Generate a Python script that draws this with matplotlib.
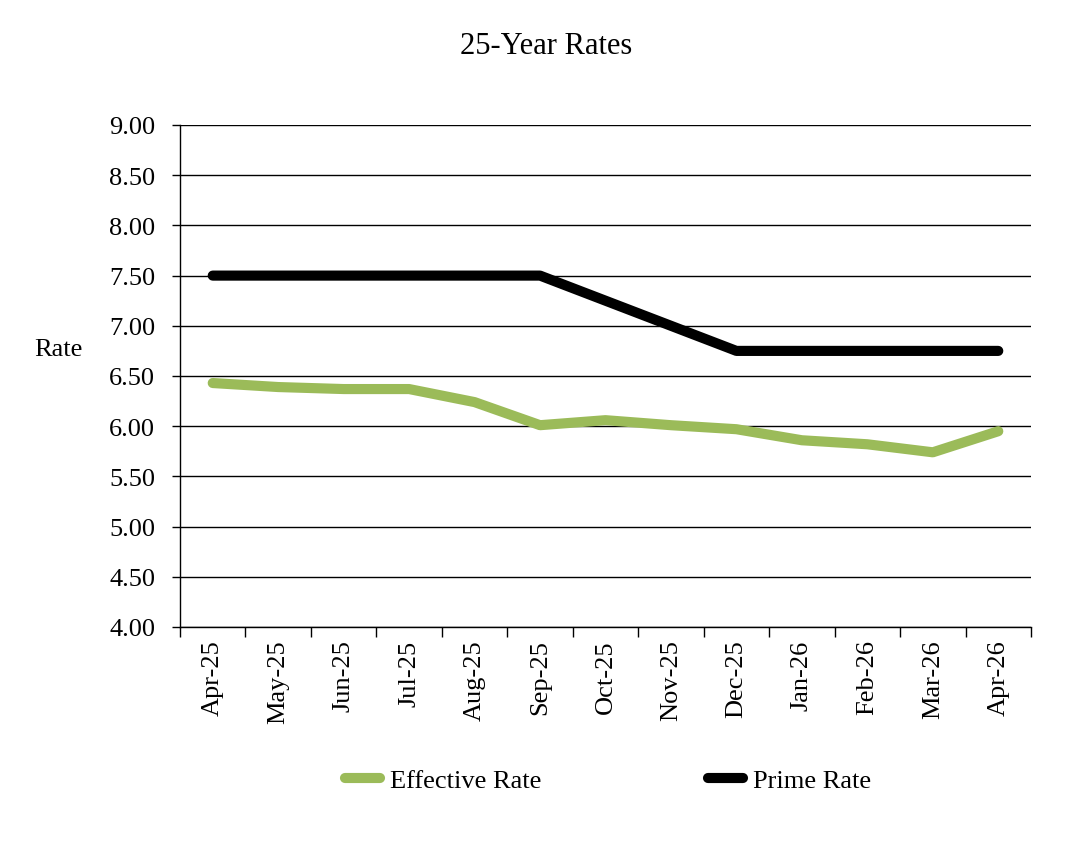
import matplotlib
matplotlib.use("Agg")
import matplotlib.pyplot as plt
from matplotlib.lines import Line2D
import numpy as np

months = ["Apr-25", "May-25", "Jun-25", "Jul-25", "Aug-25", "Sep-25", "Oct-25",
          "Nov-25", "Dec-25", "Jan-26", "Feb-26", "Mar-26", "Apr-26"]
effective_rate = [6.43, 6.39, 6.37, 6.37, 6.24, 6.01, 6.06, 6.01, 5.97, 5.86, 5.82, 5.74, 5.95]
prime_rate = [7.50, 7.50, 7.50, 7.50, 7.50, 7.50, 7.25, 7.00, 6.75, 6.75, 6.75, 6.75, 6.75]
yticks = [4.00, 4.50, 5.00, 5.50, 6.00, 6.50, 7.00, 7.50, 8.00, 8.50, 9.00]

plt.rcParams['font.family'] = ['Liberation Serif', 'DejaVu Serif']
FS = 19

fig = plt.figure(figsize=(10.78, 8.45), dpi=100)
ax = fig.add_axes([180/1078, 1 - 628/845, (1031-180)/1078, (628-126)/845])

x = np.arange(len(months))
green = "#9BBB59"
ax.plot(x, effective_rate, color=green, lw=7.3, solid_capstyle='round', solid_joinstyle='round', zorder=3)
ax.plot(x, prime_rate, color="black", lw=7.3, solid_capstyle='round', solid_joinstyle='round', zorder=3)

ax.set_xlim(-0.5, len(months) - 0.5)
ax.set_ylim(4.0, 9.0)
ax.set_yticks(yticks)
ax.set_yticklabels([f"{v:.2f}" for v in yticks], fontsize=FS)
ax.yaxis.grid(True, color="black", lw=1)
ax.set_axisbelow(True)

ax.set_xticks(np.arange(-0.5, len(months), 1.0))
ax.set_xticklabels([])
ax.set_xticks(x, minor=True)
ax.set_xticklabels(months, minor=True, rotation=90, fontsize=FS)
ax.tick_params(axis='x', which='major', length=7, width=1, direction='out')
ax.tick_params(axis='x', which='minor', length=0, pad=9)
ax.tick_params(axis='y', length=6, width=1, direction='out', pad=12)

for s in ["top", "right"]:
    ax.spines[s].set_visible(False)
for s in ["left", "bottom"]:
    ax.spines[s].set_linewidth(1)
    ax.spines[s].set_color("black")

fig.text(58/1078, 1 - 350/845, "Rate", fontsize=FS, ha="center", va="center")
fig.text(546/1078, 1 - 47/845, "25-Year Rates", fontsize=22, ha="center", va="center")

handles = [Line2D([0], [0], color=green, lw=7.3, solid_capstyle='round'),
           Line2D([0], [0], color="black", lw=7.3, solid_capstyle='round')]
fig.legend(handles, ["Effective Rate", "Prime Rate"], loc="center",
           bbox_to_anchor=(608/1078, 1 - 781/845), ncol=2, frameon=False,
           fontsize=FS, handlelength=1.33, handletextpad=0.38, columnspacing=6.3)

fig.savefig("out.png", dpi=100)
